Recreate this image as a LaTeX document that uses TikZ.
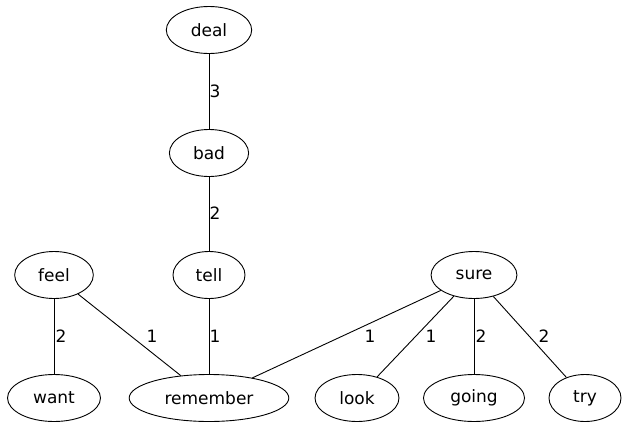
\documentclass[tikz,border=0pt]{standalone}
\usepackage{fontspec}
\setmainfont{DejaVu Sans}
\usetikzlibrary{shapes.geometric}

\begin{document}
\begin{tikzpicture}[x=1pt,y=-1pt,line width=0.9pt,
        word/.style={draw, ellipse, minimum height=47pt, minimum width=72pt, inner xsep=12pt, font=\fontsize{17}{20}\selectfont},
        wt/.style={inner sep=0pt, font=\fontsize{17}{20}\selectfont}]
                \useasboundingbox (0,0) rectangle (627,429);

                \node[word] (deal) at (209,30) {deal}; %top
                \node[word] (bad) at (209,153) {bad};
                \node[word] (feel) at (54,275) {feel}; %middle row
                \node[word] (tell) at (209,275) {tell};
                \node[word] (sure) at (474,275) {sure};
                \node[word] (want) at (54,398) {want}; %bottom row
                \node[word] (remember) at (209,398) {remember};
                \node[word] (look) at (357,398) {look};
                \node[word] (going) at (474,398) {going};
                \node[word] (try) at (585,398) {try};

                \draw (deal) -- (bad);
                \draw (bad) -- (tell);
                \draw (feel) -- (want);
                \draw (feel) -- (remember);
                \draw (tell) -- (remember);
                \draw (sure) -- (remember);
                \draw (sure) -- (look);
                \draw (sure) -- (going);
                \draw (sure) -- (try);

                \node[wt] (wdealbad) at (215,91) {3}; %weights
                \node[wt] (wbadtell) at (215,213) {2};
                \node[wt] (wfeelwant) at (61,336) {2};
                \node[wt] (wfeelrem) at (152,336) {1};
                \node[wt] (wtellrem) at (215,336) {1};
                \node[wt] (wsurerem) at (370,336) {1};
                \node[wt] (wsurelook) at (431,336) {1};
                \node[wt] (wsuregoing) at (481,336) {2};
                \node[wt] (wsuretry) at (544,336) {2};
            \end{tikzpicture}
\end{document}
